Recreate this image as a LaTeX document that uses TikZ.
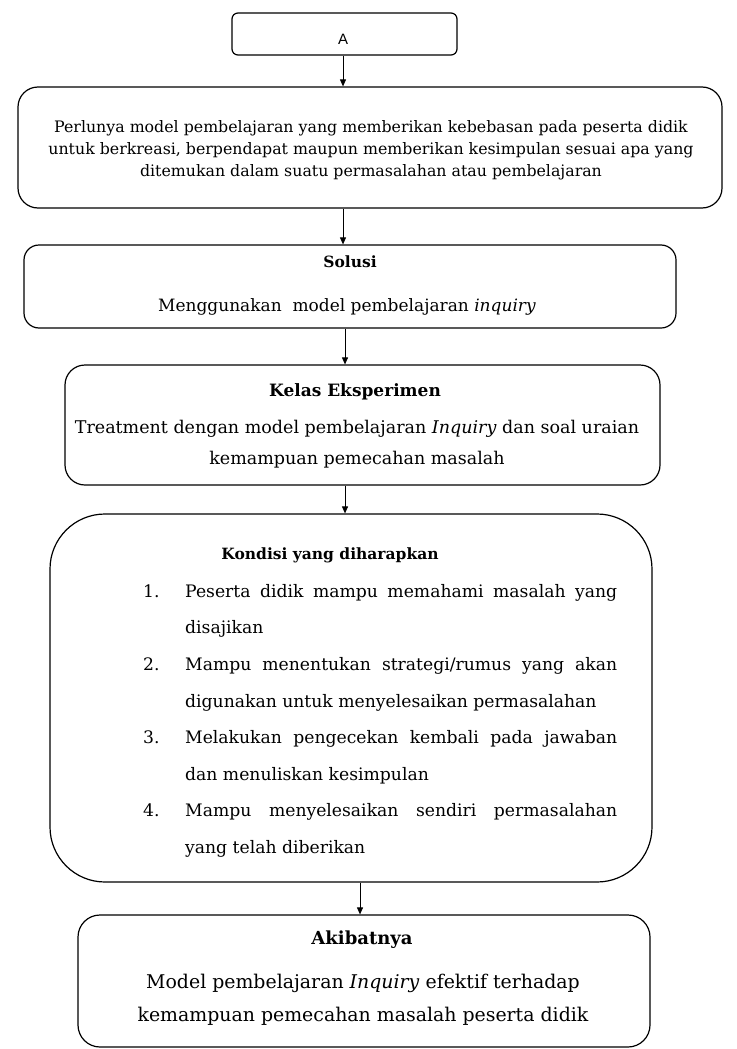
\documentclass[tikz,border=0pt]{standalone}
\usepackage{fontspec}
\setmainfont{DejaVu Serif}
\newfontfamily\labelfont{Liberation Sans}
\usetikzlibrary{arrows.meta}
\begin{document}
\begin{tikzpicture}[x=1pt,y=-1pt,
  box/.style={draw, line width=1.2pt, rounded corners=#1, inner sep=0pt},
  arr/.style={line width=0.9pt, -{Triangle[length=7pt,width=6pt]}},
  txt/.style={inner sep=0pt, align=center}]
\useasboundingbox (0,0) rectangle (736,1049);
% boxes
\node[box=6pt, minimum width=225pt, minimum height=42pt] (A) at (344.5,34) {};
\node[box=20pt, minimum width=704pt, minimum height=121pt] (B1) at (370,147.5) {};
\node[box=15pt, minimum width=652pt, minimum height=83pt] (B2) at (350,286.5) {};
\node[box=20pt, minimum width=595pt, minimum height=120pt] (B3) at (362.5,425) {};
\node[box=55pt, minimum width=602pt, minimum height=368pt] (B4) at (351,698) {};
\node[box=22pt, minimum width=572pt, minimum height=132pt] (B5) at (364,981) {};
% texts
\node[txt, font=\labelfont\fontsize{15}{17}\selectfont] (tA) at (343,39) {A};
\node[txt, font=\fontsize{15.8}{22}\selectfont] (t1) at (371,150) {Perlunya model pembelajaran yang memberikan kebebasan pada peserta didik\\untuk berkreasi, berpendapat maupun memberikan kesimpulan sesuai apa yang\\ditemukan dalam suatu permasalahan atau pembelajaran};
\node[txt, font=\bfseries\fontsize{15.5}{18}\selectfont] (t2a) at (350,262) {Solusi};
\node[txt, font=\fontsize{17}{20}\selectfont] (t2b) at (347,307) {Menggunakan\ \ model pembelajaran \textit{inquiry}};
\node[txt, font=\bfseries\fontsize{17}{19}\selectfont] (t3a) at (355,392) {Kelas Eksperimen};
\node[txt, font=\fontsize{17.5}{31}\selectfont] (t3b) at (357,444.5) {Treatment dengan model pembelajaran \textit{Inquiry} dan soal uraian\\kemampuan pemecahan masalah};
\node[txt, font=\bfseries\fontsize{15.5}{18}\selectfont] (t4a) at (330,555) {Kondisi yang diharapkan};
\node[anchor=north west, inner sep=0pt, text width=432pt, align=justify, font=\fontsize{17.2}{36.6}\selectfont] (t4b) at (185,584) {%
\noindent\llap{\makebox[42pt][l]{1.}}Peserta didik mampu memahami masalah yang\linebreak disajikan\par
\noindent\llap{\makebox[42pt][l]{2.}}Mampu menentukan strategi/rumus yang akan\linebreak digunakan untuk menyelesaikan permasalahan\par
\noindent\llap{\makebox[42pt][l]{3.}}Melakukan pengecekan kembali pada jawaban\linebreak dan menuliskan kesimpulan\par
\noindent\llap{\makebox[42pt][l]{4.}}Mampu menyelesaikan sendiri permasalahan\linebreak yang telah diberikan\par};
\node[txt, font=\bfseries\fontsize{18}{21}\selectfont] (t5a) at (362,940) {Akibatnya};
\node[txt, font=\fontsize{18.9}{33}\selectfont] (t5b) at (363,999.5) {Model pembelajaran \textit{Inquiry} efektif terhadap\\kemampuan pemecahan masalah peserta didik};
% arrow x positions
\coordinate (x1) at (343,0);
\coordinate (x2) at (345,0);
\coordinate (x3) at (360,0);
\draw[arr] (A.south -| x1) -- (B1.north -| x1);
\draw[arr] (B1.south -| x1) -- (B2.north -| x1);
\draw[arr] (B2.south -| x2) -- (B3.north -| x2);
\draw[arr] (B3.south -| x2) -- (B4.north -| x2);
\draw[arr] (B4.south -| x3) -- (B5.north -| x3);
\end{tikzpicture}
\end{document}
